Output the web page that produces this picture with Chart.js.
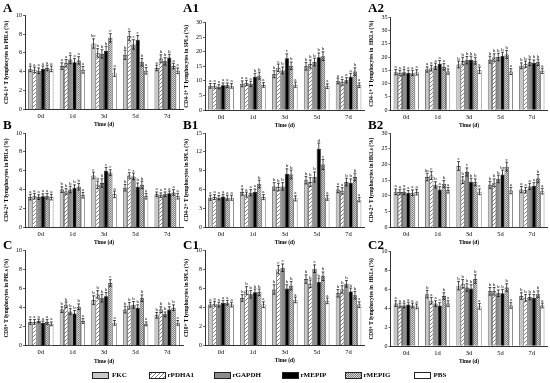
<!DOCTYPE html>
<html><head><meta charset="utf-8">
<script src="https://cdn.jsdelivr.net/npm/chart.js@4"></script>
<style>
html,body{margin:0;padding:0;background:#fff;}
body{width:550px;height:383px;position:relative;overflow:hidden;font-family:'Liberation Serif','Times New Roman',serif;}
canvas.panel{position:absolute;}
.plet{position:absolute;font-weight:bold;font-size:13px;line-height:13px;color:#000;}
.lg{position:absolute;font-weight:bold;font-size:7px;line-height:7px;color:#000;white-space:nowrap;}
canvas.sw{position:absolute;}
</style></head><body>
<script>
const timePoints = ['0d','1d','3d','5d','7d'];
const seriesNames = ['FKC','rPDHA1','rGAPDH','rMEPIP','rMEPIG','PBS'];

// ---- A: CD4-1+ PBLs ----
const A_values = [
 [4.3,4.6,7.0,5.8,4.4],[4.2,4.9,6.0,7.8,5.4],[4.1,5.3,5.9,6.9,5.1],
 [4.3,5.0,6.2,7.4,5.5],[4.4,5.2,7.6,5.0,4.6],[4.3,4.2,3.9,4.1,4.1]];
const A_errors = [
 [0.3,0.35,0.5,0.5,0.3],[0.3,0.4,0.45,0.5,0.4],[0.3,0.45,0.45,0.5,0.4],
 [0.3,0.4,0.5,0.45,0.35],[0.3,0.4,0.45,0.4,0.3],[0.3,0.35,0.4,0.35,0.3]];
const A_letters = [
 ['a','a','bc','b','a'],['a','a','b','c','b'],['a','a','b','c','b'],
 ['a','a','b','c','b'],['a','a','c','b','a'],['a','a','a','a','a']];

// ---- A1: CD4-1+ SPLs ----
const A1_values = [
 [8.3,9.0,12.3,15.0,10.0],[8.3,9.3,14.5,15.8,9.5],[8.0,9.0,13.6,16.5,10.2],
 [8.5,11.4,17.8,18.1,11.4],[8.5,11.8,15.2,18.5,13.2],[8.3,8.6,8.7,8.2,8.5]];
const A1_errors = [
 [0.8,1.0,1.2,1.3,1.0],[0.8,0.9,1.3,1.4,1.0],[0.7,0.9,1.2,1.3,0.9],
 [0.8,1.2,1.5,1.5,1.2],[0.8,1.2,1.3,1.5,1.3],[0.8,0.8,0.9,0.8,0.8]];
const A1_letters = [
 ['a','a','b','b','a'],['a','a','c','b','a'],['a','a','b','b','a'],
 ['a','b','c','b','a'],['a','b','b','b','b'],['a','a','a','a','a']];

// ---- A2: CD4-1+ HKLs ----
const A2_values = [
 [14.3,15.3,17.2,19.0,16.7],[14.0,15.8,18.5,19.8,17.3],[14.3,16.5,18.8,20.0,18.0],
 [14.0,17.5,19.0,20.5,17.8],[14.0,16.3,18.6,21.0,18.0],[14.2,14.5,15.0,14.5,14.8]];
const A2_errors = [
 [1.0,1.0,1.3,1.3,1.1],[1.0,1.1,1.4,1.4,1.2],[1.1,1.2,1.4,1.4,1.2],
 [1.0,1.2,1.3,1.3,1.1],[1.0,1.2,1.3,1.5,1.2],[1.0,1.0,1.2,1.1,1.0]];
const A2_letters = [
 ['a','a','b','b','b'],['a','a','b','b','b'],['a','a','b','b','b'],
 ['a','a','b','b','b'],['a','a','b','b','b'],['a','a','a','a','a']];

// ---- B: CD4-2+ PBLs ----
const B_values = [
 [3.2,4.0,5.5,4.2,3.5],[3.3,3.8,4.5,5.5,3.4],[3.2,4.0,4.7,5.4,3.5],
 [3.3,4.2,6.0,4.3,3.6],[3.3,4.3,5.8,4.5,3.7],[3.2,3.4,3.5,3.3,3.3]];
const B_errors = [
 [0.3,0.3,0.35,0.35,0.25],[0.3,0.3,0.4,0.3,0.25],[0.25,0.35,0.45,0.35,0.25],
 [0.25,0.3,0.35,0.4,0.25],[0.3,0.35,0.3,0.4,0.3],[0.3,0.3,0.35,0.3,0.3]];
const B_letters = [
 ['a','b','c','b','a'],['a','b','b','c','a'],['a','b','b','c','a'],
 ['a','b','c','b','a'],['a','b','c','b','a'],['a','a','a','a','a']];

// ---- B1: CD4-2+ SPLs ----
const B1_values = [
 [4.7,5.6,6.5,7.5,6.0],[4.8,5.2,6.4,7.2,5.8],[4.7,5.5,6.5,8.0,7.2],
 [4.9,5.6,8.5,12.5,7.1],[4.7,6.9,8.4,10.0,8.0],[4.7,4.8,4.6,4.7,4.4]];
const B1_errors = [
 [0.4,0.5,0.6,0.6,0.5],[0.4,0.4,0.6,0.7,0.5],[0.35,0.5,0.6,0.8,0.6],
 [0.35,0.5,0.8,0.9,0.6],[0.4,0.6,0.7,0.8,0.6],[0.4,0.4,0.4,0.4,0.35]];
const B1_letters = [
 ['a','a','b','b','a'],['a','a','b','b','a'],['a','a','b','b','b'],
 ['a','a','b','d','b'],['a','b','b','c','b'],['a','a','a','a','a']];

// ---- B2: CD4-2+ HKLs ----
const B2_values = [
 [11.3,16.0,19.5,13.5,12.0],[11.2,16.5,15.0,14.2,11.8],[11.3,13.5,17.6,15.4,13.0],
 [10.9,12.0,14.5,16.8,13.2],[11.0,13.8,14.3,19.3,15.5],[11.2,11.8,11.3,11.7,11.5]];
const B2_errors = [
 [0.9,1.2,1.4,1.1,1.0],[0.9,1.3,1.1,1.2,0.9],[0.9,1.0,1.3,1.2,1.0],
 [0.8,0.9,1.1,1.4,1.0],[0.9,1.1,1.1,1.4,1.3],[0.9,0.9,0.9,1.0,0.9]];
const B2_letters = [
 ['a','bc','c','b','a'],['a','c','b','b','a'],['a','b','c','b','a'],
 ['a','a','b','bc','a'],['a','b','b','c','b'],['a','a','a','a','a']];

// ---- C: CD8+ PBLs ----
const C_values = [
 [2.5,3.8,4.8,3.8,3.2],[2.5,4.3,5.4,4.2,3.8],[2.6,3.6,5.0,4.3,3.3],
 [2.4,3.4,5.2,4.0,3.8],[2.5,4.1,6.6,5.0,4.0],[2.3,2.6,2.4,2.3,2.4]];
const C_errors = [
 [0.25,0.3,0.45,0.35,0.3],[0.25,0.3,0.4,0.35,0.3],[0.2,0.3,0.4,0.35,0.25],
 [0.2,0.3,0.4,0.3,0.3],[0.25,0.3,0.35,0.35,0.3],[0.2,0.25,0.25,0.2,0.25]];
const C_letters = [
 ['a','b','b','b','b'],['a','b','b','b','b'],['a','b','b','b','b'],
 ['a','b','b','b','b'],['a','b','c','b','b'],['a','a','a','a','a']];

// ---- C1: CD8+ SPLs ----
const C1_values = [
 [4.3,5.0,5.9,7.0,5.5],[4.4,5.8,8.0,6.5,5.9],[4.3,5.4,8.2,8.1,6.5],
 [4.5,5.6,6.0,6.7,5.7],[4.5,5.6,6.3,7.3,5.3],[4.3,4.3,4.8,4.7,4.3]];
const C1_errors = [
 [0.25,0.35,0.5,0.45,0.4],[0.25,0.4,0.45,0.4,0.4],[0.25,0.4,0.4,0.4,0.35],
 [0.25,0.35,0.4,0.4,0.35],[0.25,0.35,0.45,0.45,0.4],[0.25,0.3,0.3,0.3,0.3]];
const C1_letters = [
 ['a','b','b','b','b'],['a','b','c','b','b'],['a','b','c','c','b'],
 ['a','b','b','b','b'],['a','b','b','b','b'],['a','a','a','a','a']];

// ---- C2: CD8+ HKLs ----
const C2_values = [
 [4.5,5.5,6.4,5.8,5.3],[4.3,4.8,6.6,5.8,5.1],[4.3,4.5,6.2,5.6,5.2],
 [4.4,4.3,6.1,5.6,5.1],[4.3,5.3,7.1,6.2,5.5],[4.2,4.5,4.2,4.3,4.3]];
const C2_errors = [
 [0.3,0.4,0.45,0.4,0.35],[0.25,0.35,0.45,0.4,0.35],[0.25,0.3,0.4,0.35,0.3],
 [0.25,0.3,0.4,0.4,0.35],[0.25,0.35,0.45,0.4,0.35],[0.25,0.3,0.3,0.3,0.25]];
const C2_letters = [
 ['a','b','b','b','b'],['a','a','b','b','b'],['a','a','b','b','b'],
 ['a','a','b','b','b'],['a','b','b','b','b'],['a','a','a','a','a']];

// ---- layout ----
const cols = [{cl:0,pl:25,pr:183},{cl:180,pl:205,pr:364.5},{cl:365,pl:390.5,pr:547.5}];
const rows = [{rt:0,h:131},{rt:117,h:132},{rt:234,h:134}];
const panels = [
 {id:'A', v:A_values, e:A_errors, l:A_letters, max:10, step:2, t:'CD4-1+ T lymphocytes in PBLs (%)', c:0, r:0, top:15.3, bot:109.3},
 {id:'A1',v:A1_values,e:A1_errors,l:A1_letters,max:30, step:5, t:'CD4-1+ T lymphocytes in SPLs (%)', c:1, r:0, top:22.7, bot:110},
 {id:'A2',v:A2_values,e:A2_errors,l:A2_letters,max:35, step:5, t:'CD4-1+ T lymphocytes in  HKLs (%)', c:2, r:0, top:17.3, bot:110},
 {id:'B', v:B_values, e:B_errors, l:B_letters, max:10, step:2, t:'CD4-2+ T lymphocytes in PBLs (%)', c:0, r:1, top:133, bot:227.3},
 {id:'B1',v:B1_values,e:B1_errors,l:B1_letters,max:15, step:3, t:'CD4-2+ T lymphocytes in SPLs (%)', c:1, r:1, top:133, bot:227.3},
 {id:'B2',v:B2_values,e:B2_errors,l:B2_letters,max:30, step:5, t:'CD4-2+ T lymphocytes in HKLs (%)', c:2, r:1, top:133, bot:227.3},
 {id:'C', v:C_values, e:C_errors, l:C_letters, max:10, step:2, t:'CD8+ T lymphocytes in PBLs (%)', c:0, r:2, top:250.7, bot:345.7},
 {id:'C1',v:C1_values,e:C1_errors,l:C1_letters,max:10, step:2, t:'CD8+ T lymphocytes in SPLs (%)', c:1, r:2, top:250.7, bot:345.3},
 {id:'C2',v:C2_values,e:C2_errors,l:C2_letters,max:10, step:2, t:'CD8+ T lymphocytes in  HKLs (%)', c:2, r:2, top:251.7, bot:346}
];
const letterPos = [{x:[3,183,368]},{y:[1,118,237.5]}];

const FONT = "'Liberation Serif','Times New Roman',serif";

function mkPattern(w,h,draw){
  const c=document.createElement('canvas');c.width=w;c.height=h;
  const g=c.getContext('2d');draw(g);return g.createPattern(c,'repeat');
}
const hatchFill = mkPattern(4,4,g=>{
  g.fillStyle='#fff';g.fillRect(0,0,4,4);
  g.strokeStyle='#707070';g.lineWidth=0.9;g.beginPath();
  g.moveTo(0,4);g.lineTo(4,0);g.moveTo(-1,1);g.lineTo(1,-1);g.moveTo(3,5);g.lineTo(5,3);g.stroke();
});
const dotFill = mkPattern(2,2,g=>{
  g.fillStyle='#d6d6d6';g.fillRect(0,0,2,2);
  g.fillStyle='#7c7c7c';g.fillRect(0,0,1,1);g.fillRect(1,1,1,1);
});
const fills = ['#c8c8c8', hatchFill, '#8c8c8c', '#000000', dotFill, '#ffffff'];

function errPlugin(p){
  return {
    id:'err_'+p.id,
    afterDatasetsDraw(chart){
      const ctx=chart.ctx, ys=chart.scales.y;
      ctx.save();
      chart.data.datasets.forEach((ds,di)=>{
        const meta=chart.getDatasetMeta(di);
        meta.data.forEach((bar,i)=>{
          const v=ds.data[i], e=p.e[di][i];
          const x=bar.x, yt=ys.getPixelForValue(v+e), yb=ys.getPixelForValue(v-e);
          const cw=1.4;
          ctx.strokeStyle='#000';ctx.lineWidth=0.7;
          ctx.beginPath();
          ctx.moveTo(x,yt);ctx.lineTo(x,yb);
          ctx.moveTo(x-cw,yt);ctx.lineTo(x+cw,yt);
          ctx.moveTo(x-cw,yb);ctx.lineTo(x+cw,yb);
          ctx.stroke();
          ctx.fillStyle='#000';ctx.font='5px '+FONT;
          ctx.textAlign='center';ctx.textBaseline='bottom';
          ctx.fillText(p.l[di][i],x,yt-0.3);
        });
      });
      ctx.restore();
    }
  };
}

panels.forEach(p=>{
  const col=cols[p.c], row=rows[p.r];
  const cv=document.createElement('canvas');
  cv.className='panel';
  const W=Math.ceil(col.pr-col.cl+2), H=row.h;
  cv.width=W;cv.height=H;
  cv.style.left=col.cl+'px';cv.style.top=row.rt+'px';
  cv.style.width=W+'px';cv.style.height=H+'px';
  document.body.appendChild(cv);
  const xAxisH=20;
  const padTop=p.top-row.rt;
  const padBot=H-(p.bot-row.rt)-xAxisH;
  new Chart(cv.getContext('2d'),{
    type:'bar',
    data:{labels:timePoints,datasets:seriesNames.map((n,si)=>({
      label:n,data:p.v[si],backgroundColor:fills[si],borderColor:'#1e1e1e',borderWidth:0.7,
      categoryPercentage:0.8,barPercentage:1.0
    }))},
    options:{
      responsive:false,animation:false,devicePixelRatio:1,
      layout:{padding:{left:0,right:W-(col.pr-col.cl),top:padTop,bottom:padBot}},
      plugins:{legend:{display:false},tooltip:{enabled:false}},
      scales:{
        x:{
          grid:{display:false,drawTicks:false},
          border:{display:true,color:'#000',width:0.8},
          ticks:{font:{family:FONT,size:6.5},color:'#000',padding:3,maxRotation:0},
          title:{display:true,text:'Time (d)',font:{family:FONT,size:5.5,weight:'bold'},color:'#000',padding:{top:0,bottom:1}},
          afterFit:s=>{s.height=xAxisH;}
        },
        y:{
          min:0,max:p.max,
          ticks:{stepSize:p.step,font:{family:FONT,size:6},color:'#000',padding:1},
          grid:{display:true,drawOnChartArea:false,drawTicks:true,tickLength:2,color:'#000',lineWidth:0.6},
          border:{display:true,color:'#000',width:0.8},
          title:{display:true,text:p.t,font:{family:FONT,size:5.4,weight:'bold'},color:'#000',padding:{top:3.5,bottom:0}},
          afterFit:s=>{s.width=col.pl-col.cl;}
        }
      }
    },
    plugins:[errPlugin(p)]
  });
  const d=document.createElement('div');
  d.className='plet';d.textContent=p.id;
  d.style.left=letterPos[0].x[p.c]+'px';d.style.top=letterPos[1].y[p.r]+'px';
  document.body.appendChild(d);
});

// legend
const legendPos = [[92,112],[148.5,167.5],[213.5,232.5],[282,300.5],[345,363.5],[413.5,433.5]];
seriesNames.forEach((n,i)=>{
  const c=document.createElement('canvas');c.className='sw';
  c.width=17;c.height=7;c.style.left=legendPos[i][0]+'px';c.style.top='372px';
  document.body.appendChild(c);
  const g=c.getContext('2d');
  g.fillStyle=fills[i];g.fillRect(0,0,17,7);
  g.strokeStyle='#222';g.lineWidth=1;g.strokeRect(0.5,0.5,16,6);
  const t=document.createElement('div');t.className='lg';t.textContent=n;
  t.style.left=legendPos[i][1]+'px';t.style.top='372px';
  document.body.appendChild(t);
});
</script>
</body></html>
